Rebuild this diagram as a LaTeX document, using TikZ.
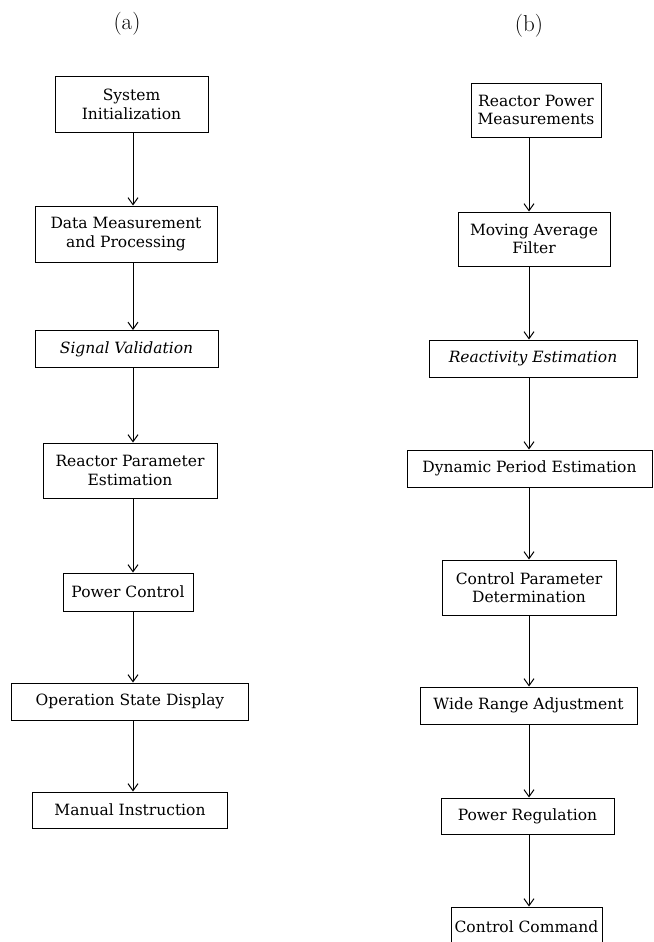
\documentclass[tikz,border=0pt]{standalone}
\usepackage{fontspec}
\newfontfamily\boxfont{DejaVu Serif}
\usepackage{tikz}
\usetikzlibrary{arrows.meta,positioning}

\tikzset{
  blk/.style={draw, rectangle, line width=1pt, inner sep=0pt, align=center,
    font=\boxfont\fontsize{15.5}{18.5}\selectfont},
  itblk/.style={blk, font=\boxfont\fontsize{15.5}{18.5}\selectfont\itshape},
  flow/.style={line width=1pt, -{Straight Barb[length=7pt,width=10pt,line width=1pt]}},
  tag/.style={font=\fontsize{23}{26}\selectfont}
}

\begin{document}
\begin{tikzpicture}[x=1pt, y=-1pt]
\useasboundingbox (0,0) rectangle (653,942);

% column (a)
\node[tag] (taga) at (127,24) {(a)};
\coordinate (spa) at (133,0);
\node[blk, minimum width=153, minimum height=56] (init) at (131.5,104.5) {System\\Initialization};
\node[blk, minimum width=182, minimum height=56] (meas) at (126,234) {Data Measurement\\and Processing};
\node[itblk, minimum width=183, minimum height=37] (valid) at (126.5,349) {Signal Validation};
\node[blk, minimum width=174, minimum height=55] (param) at (130,470.5) {Reactor Parameter\\Estimation};
\node[blk, minimum width=130, minimum height=38] (pctrl) at (128,592) {Power Control};
\node[blk, minimum width=237, minimum height=37] (disp) at (130,701.5) {Operation State Display};
\node[blk, minimum width=195, minimum height=36] (manual) at (130,810) {Manual Instruction};

% column (b)
\node[tag] (tagb) at (529,26) {(b)};
\coordinate (spb) at (529,0);
\node[blk, minimum width=130, minimum height=54] (rpm) at (536,110) {Reactor Power\\Measurements};
\node[blk, minimum width=152, minimum height=54] (filter) at (534,239) {Moving Average\\Filter};
\node[itblk, minimum width=208, minimum height=37] (react) at (533,358.5) {Reactivity Estimation};
\node[blk, minimum width=245, minimum height=37] (period) at (529.5,468.5) {Dynamic Period Estimation};
\node[blk, minimum width=174, minimum height=55] (cpar) at (529,587.5) {Control Parameter\\Determination};
\node[blk, minimum width=217, minimum height=37] (wide) at (528.5,705.5) {Wide Range Adjustment};
\node[blk, minimum width=173, minimum height=36] (preg) at (527.5,816) {Power Regulation};
\node[blk, minimum width=151, minimum height=40] (cmd) at (526.5,927) {Control Command};

\draw[flow] (init.south -| spa) -- (meas.north -| spa);
\draw[flow] (meas.south -| spa) -- (valid.north -| spa);
\draw[flow] (valid.south -| spa) -- (param.north -| spa);
\draw[flow] (param.south -| spa) -- (pctrl.north -| spa);
\draw[flow] (pctrl.south -| spa) -- (disp.north -| spa);
\draw[flow] (disp.south -| spa) -- (manual.north -| spa);

\draw[flow] (rpm.south -| spb) -- (filter.north -| spb);
\draw[flow] (filter.south -| spb) -- (react.north -| spb);
\draw[flow] (react.south -| spb) -- (period.north -| spb);
\draw[flow] (period.south -| spb) -- (cpar.north -| spb);
\draw[flow] (cpar.south -| spb) -- (wide.north -| spb);
\draw[flow] (wide.south -| spb) -- (preg.north -| spb);
\draw[flow] (preg.south -| spb) -- (cmd.north -| spb);
\end{tikzpicture}
\end{document}
